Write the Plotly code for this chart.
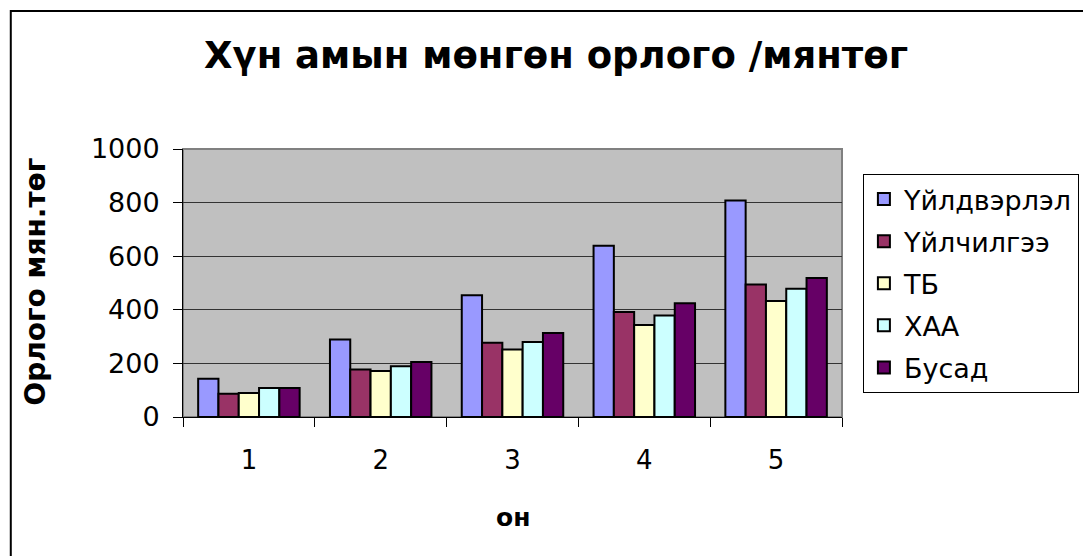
import plotly.graph_objects as go

categories = ["1", "2", "3", "4", "5"]
series_names = ["Үйлдвэрлэл", "Үйлчилгээ", "ТБ", "ХАА", "Бусад"]
uildverlel = [143, 289, 454, 639, 808]
uilchilgee = [87, 177, 277, 392, 494]
tb = [90, 172, 252, 343, 433]
haa = [108, 189, 280, 379, 479]
busad = [108, 205, 313, 424, 519]
colors = ["#9999FF", "#993366", "#FFFFCC", "#CCFFFF", "#660066"]

title_text = "Хүн амын мөнгөн орлого /мянтөг"
x_title = "он"
y_title = "Орлого мян.төг"
y_ticks = [0, 200, 400, 600, 800, 1000]

FONT = "DejaVu Sans"
OFF = 8  # page body margin

fig = go.Figure()
for i, (name, vals) in enumerate(zip(series_names, [uildverlel, uilchilgee, tb, haa, busad])):
    fig.add_trace(go.Bar(
        x=categories, y=vals, name=name, legendgroup=f"g{i}",
        marker=dict(color=colors[i], line=dict(color="black", width=2)),
    ))

W, H = 1091 - OFF, 556 - OFF
# reference pixel positions of plot area
L, R, T, B = 183, 845, 149, 417
pw, ph = R - L, B - T

def px(x):
    return (x - L) / pw

def py(y):
    return (B - y) / ph

fig.update_layout(
    width=W, height=H,
    margin=dict(l=L - OFF, r=W - (R - OFF), t=T - OFF, b=H - (B - OFF), pad=0),
    paper_bgcolor="white", plot_bgcolor="#C0C0C0",
    barmode="group", bargap=0.23, bargroupgap=0,
    font=dict(family=FONT, color="black"),
    showlegend=True,
    legend=dict(
        x=px(866), y=py(174), xanchor="left", yanchor="top",
        bgcolor="white", bordercolor="black", borderwidth=1,
        font=dict(family=FONT, size=27, color="black"),
        tracegroupgap=4, itemwidth=30, itemsizing="constant",
    ),
    xaxis=dict(
        type="category", tickson="boundaries", ticks="outside", ticklen=9,
        tickcolor="black", tickwidth=1, showline=True, linecolor="black", linewidth=1,
        showgrid=False, tickfont=dict(family=FONT, size=26, color="black"),
        ticklabelstandoff=20, fixedrange=True,
    ),
    yaxis=dict(
        range=[0, 1000], tickvals=y_ticks, ticks="outside", ticklen=9,
        tickcolor="black", tickwidth=1, showline=True, linecolor="black", linewidth=1,
        showgrid=True, gridcolor="#333333", gridwidth=1, zeroline=False,
        tickfont=dict(family=FONT, size=27, color="black"),
        ticklabelstandoff=8, fixedrange=True,
    ),
    shapes=[
        dict(type="rect", xref="paper", yref="paper", x0=0, x1=1, y0=0, y1=1,
             line=dict(color="#808080", width=2), layer="below"),
        dict(type="rect", xref="paper", yref="paper", x0=px(10), x1=px(1110),
             y0=py(580), y1=py(11), line=dict(color="black", width=2)),
    ],
    annotations=[
        dict(text="<b>" + title_text + "</b>", xref="paper", yref="paper",
             x=px(558), y=py(55), xanchor="center", yanchor="middle",
             showarrow=False, font=dict(family=FONT, size=37, color="black")),
        dict(text="<b>" + x_title + "</b>", xref="paper", yref="paper",
             x=px(514), y=py(517), xanchor="center", yanchor="middle",
             showarrow=False, font=dict(family=FONT, size=25, color="black")),
        dict(text="<b>" + y_title + "</b>", xref="paper", yref="paper",
             x=px(34), y=py(282), xanchor="center", yanchor="middle", textangle=-90,
             showarrow=False, font=dict(family=FONT, size=28, color="black")),
    ],
)

fig.write_html("out.html")
